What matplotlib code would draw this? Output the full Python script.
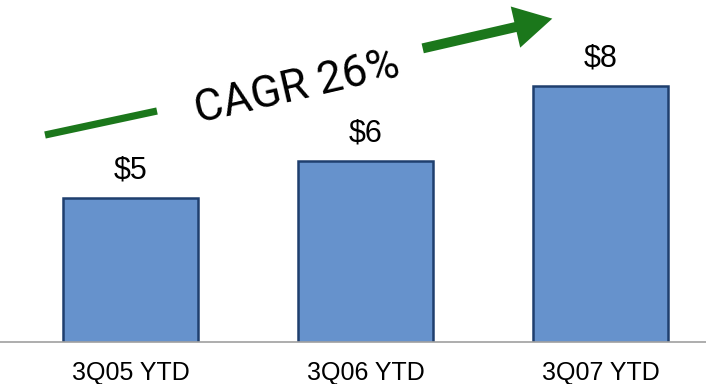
import matplotlib.pyplot as plt
from matplotlib.patches import FancyArrowPatch

# revenue, $ (YTD through Q3)
periods = ['3Q05 YTD', '3Q06 YTD', '3Q07 YTD']
values = [5, 6, 8]
value_labels = ['$5', '$6', '$8']
cagr_text = 'CAGR 26%'

bar_color = '#6692CC'
edge_color = '#1F3F6E'
green = '#1B771B'

fig = plt.figure(figsize=(7.06, 3.84), dpi=100)
ax = fig.add_axes([0, 42 / 384, 1, 342 / 384])

x = range(len(periods))
bars = ax.bar(x, values, width=0.574, color=bar_color, edgecolor=edge_color, linewidth=1.8)

ax.set_xlim(-0.555, 2.449)
ax.set_ylim(1.14, 10.31)

for b, lab in zip(bars, value_labels):
    ax.annotate(lab, (b.get_x() + b.get_width() / 2, b.get_height()),
                xytext=(0, 9), textcoords='offset points',
                ha='center', va='bottom', fontsize=22, family='Liberation Sans')

ax.set_xticks(list(x))
ax.set_xticklabels(periods, fontsize=18, family='Liberation Sans')
ax.tick_params(axis='x', length=0, pad=14)
ax.set_yticks([])
for side in ['top', 'right', 'left']:
    ax.spines[side].set_visible(False)
ax.spines['bottom'].set_color('#A0A0A0')
ax.spines['bottom'].set_linewidth(1.2)

# growth arrow, drawn in figure pixels (origin top-left)
W, H = 706, 384
def fp(px, py):
    return (px / W, 1 - py / H)

fig.add_artist(plt.Line2D([fp(45, 135)[0], fp(157, 111)[0]],
                          [fp(45, 135)[1], fp(157, 111)[1]],
                          transform=fig.transFigure, color=green,
                          linewidth=5.2, solid_capstyle='butt'))
arrow = FancyArrowPatch(fp(420, 49), fp(555, 18), transform=fig.transFigure,
                        arrowstyle='simple,head_length=3.4,head_width=3.8,tail_width=0.9',
                        mutation_scale=8, color=green, linewidth=0)
fig.add_artist(arrow)

fig.text(fp(297, 88)[0], fp(297, 88)[1], cagr_text, rotation=13,
         ha='center', va='center', fontsize=32,
         family=['Roboto', 'DejaVu Sans'])

fig.savefig('out.png', dpi=100)
